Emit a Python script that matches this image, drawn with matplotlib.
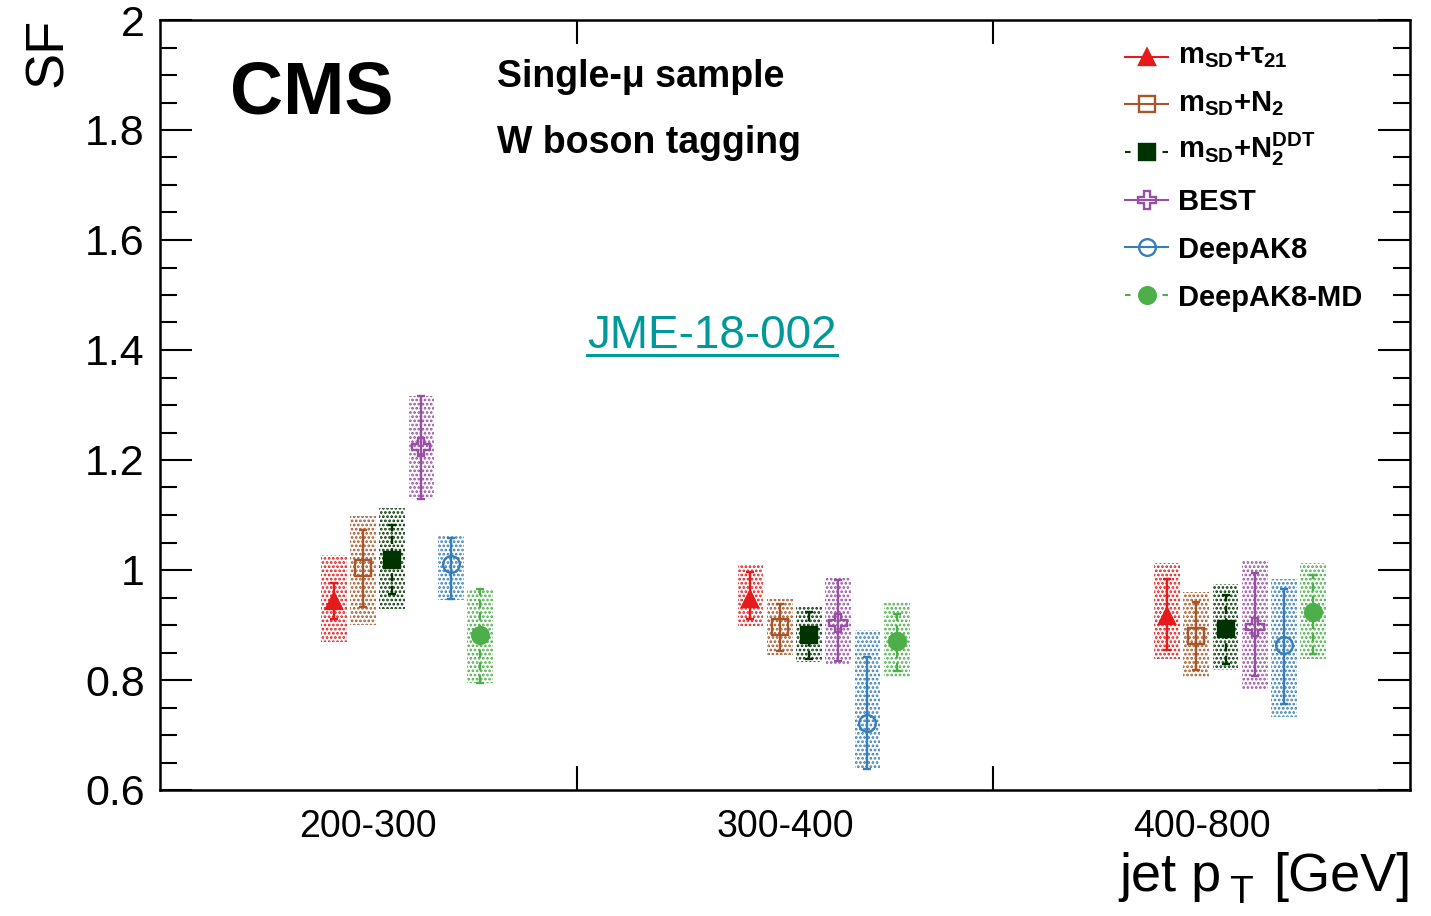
import numpy as np
import matplotlib
matplotlib.use('Agg')
import matplotlib.pyplot as plt
from matplotlib.patches import Rectangle
from matplotlib.lines import Line2D
from matplotlib.ticker import MultipleLocator, FixedLocator, FuncFormatter

plt.rcParams['font.family'] = ['Liberation Sans', 'DejaVu Sans']
plt.rcParams['mathtext.fontset'] = 'custom'
plt.rcParams['mathtext.rm'] = 'Liberation Sans'
plt.rcParams['mathtext.bf'] = 'Liberation Sans:bold'
plt.rcParams['mathtext.it'] = 'Liberation Sans:italic'
plt.rcParams['mathtext.sf'] = 'Liberation Sans'
plt.rcParams['hatch.linewidth'] = 1.3
plt.rcParams['lines.scale_dashes'] = False

# ---------------- data ----------------
categories = ['200-300', '300-400', '400-800']

tau21_sf = [0.943, 0.947, 0.917]
tau21_lo = [0.911, 0.911, 0.855]
tau21_hi = [0.977, 0.996, 0.983]
tau21_box_lo = [0.870, 0.898, 0.839]
tau21_box_hi = [1.027, 1.009, 1.012]

n2_sf = [1.004, 0.896, 0.880]
n2_lo = [0.933, 0.853, 0.818]
n2_hi = [1.073, 0.939, 0.942]
n2_box_lo = [0.900, 0.846, 0.804]
n2_box_hi = [1.098, 0.948, 0.960]

n2ddt_sf = [1.018, 0.881, 0.893]
n2ddt_lo = [0.956, 0.838, 0.829]
n2ddt_hi = [1.081, 0.923, 0.955]
n2ddt_box_lo = [0.930, 0.832, 0.818]
n2ddt_box_hi = [1.112, 0.932, 0.975]

best_sf = [1.224, 0.903, 0.896]
best_lo = [1.129, 0.834, 0.807]
best_hi = [1.316, 0.982, 0.994]
best_box_lo = [1.129, 0.827, 0.783]
best_box_hi = [1.317, 0.985, 1.018]

dak8_sf = [1.011, 0.721, 0.864]
dak8_lo = [0.947, 0.638, 0.756]
dak8_hi = [1.059, 0.841, 0.965]
dak8_box_lo = [0.945, 0.640, 0.733]
dak8_box_hi = [1.062, 0.891, 0.983]

dak8md_sf = [0.881, 0.871, 0.923]
dak8md_lo = [0.795, 0.817, 0.847]
dak8md_hi = [0.965, 0.920, 0.991]
dak8md_box_lo = [0.795, 0.804, 0.839]
dak8md_box_hi = [0.965, 0.941, 1.012]

series_labels = [r'm$_{\mathbf{SD}}$+τ$_{\mathbf{21}}$',
                 r'm$_{\mathbf{SD}}$+N$_{\mathbf{2}}$',
                 r'm$_{\mathbf{SD}}$+N$_{\mathbf{2}}^{\mathbf{DDT}}$',
                 'BEST', 'DeepAK8', 'DeepAK8-MD']

# ---------------- styles ----------------
series = [
    dict(sf=tau21_sf, lo=tau21_lo, hi=tau21_hi, blo=tau21_box_lo, bhi=tau21_box_hi,
         color='#e41a1c', marker='^', ms=11, filled=True, dashed=False, tdy=7),
    dict(sf=n2_sf, lo=n2_lo, hi=n2_hi, blo=n2_box_lo, bhi=n2_box_hi,
         color='#a65628', marker='s', ms=11, filled=False, dashed=False, tdy=7),
    dict(sf=n2ddt_sf, lo=n2ddt_lo, hi=n2ddt_hi, blo=n2ddt_box_lo, bhi=n2ddt_box_hi,
         color='#003300', marker='s', ms=12, filled=True, dashed=True, tdy=6),
    dict(sf=best_sf, lo=best_lo, hi=best_hi, blo=best_box_lo, bhi=best_box_hi,
         color='#984ea3', marker='P', ms=13, filled=False, dashed=False, tdy=10.5),
    dict(sf=dak8_sf, lo=dak8_lo, hi=dak8_hi, blo=dak8_box_lo, bhi=dak8_box_hi,
         color='#377eb8', marker='o', ms=12, filled=False, dashed=False, tdy=10.5),
    dict(sf=dak8md_sf, lo=dak8md_lo, hi=dak8md_hi, blo=dak8md_box_lo, bhi=dak8md_box_hi,
         color='#4daf4a', marker='o', ms=12, filled=True, dashed=True, tdy=10.5),
]

W, H = 1431, 916
fig = plt.figure(figsize=(W / 100, H / 100), dpi=100)
AX_L, AX_R, AX_T, AX_B = 160, 1410, 20, 790
ax = fig.add_axes([AX_L / W, 1 - AX_B / H, (AX_R - AX_L) / W, (AX_B - AX_T) / H])
ax.set_xlim(0, 3)
ax.set_ylim(0.6, 2.0)

def fx(p):
    return p / W

def fy(p):
    return 1 - p / H

def axx(p):
    return (p - AX_L) / (AX_R - AX_L)

def axy(p):
    return (AX_B - p) / (AX_B - AX_T)

first_offset = 0.417
step = 0.0702
box_w = 0.062
elw = 1.7

for i, s in enumerate(series):
    x = np.arange(len(categories)) + first_offset + i * step
    for xi, lo, hi in zip(x, s['blo'], s['bhi']):
        ax.add_patch(Rectangle((xi - box_w / 2, lo), box_w, hi - lo,
                               facecolor='none', edgecolor=s['color'],
                               linewidth=0, hatch='....', zorder=1))
    sf = np.array(s['sf'])
    yerr = [sf - np.array(s['lo']), np.array(s['hi']) - sf]
    eb = ax.errorbar(x, sf, yerr=yerr, fmt='none', ecolor=s['color'],
                     elinewidth=elw, capsize=3, capthick=elw, zorder=2)
    if s['dashed']:
        eb[2][0].set_linestyle((0, (6, 3)))
    ax.plot(x, sf, linestyle='none', marker=s['marker'], ms=s['ms'],
            mfc=s['color'] if s['filled'] else 'none', mec=s['color'],
            mew=elw, zorder=3)

    # legend entry
    ly = axy(56.5 + i * 47.7)
    ls = (0, (4, 23)) if s['dashed'] else '-'
    ax.plot([axx(1125), axx(1168)], [ly, ly], transform=ax.transAxes,
            color=s['color'], lw=1.5, linestyle=ls, clip_on=False, zorder=4)
    ax.plot([axx(1146.5)], [ly], transform=ax.transAxes, linestyle='none',
            marker=s['marker'], ms=s['ms'],
            mfc=s['color'] if s['filled'] else 'none', mec=s['color'],
            mew=elw, clip_on=False, zorder=5)
    ax.text(axx(1178), axy(56.5 + i * 47.7 + s['tdy']), series_labels[i],
            transform=ax.transAxes, ha='left', va='baseline', fontsize=21,
            fontweight='bold')

# ---------------- axes styling ----------------
for sp in ax.spines.values():
    sp.set_linewidth(1.8)

ax.yaxis.set_major_locator(MultipleLocator(0.2))
ax.yaxis.set_minor_locator(MultipleLocator(0.05))
ax.yaxis.set_major_formatter(FuncFormatter(lambda v, p: f'{v:g}'))
ax.tick_params(axis='y', which='major', direction='in', length=23, width=1.5,
               left=True, right=True, labelsize=31, pad=11)
ax.tick_params(axis='y', which='minor', direction='in', length=12, width=1.5,
               left=True, right=True)

ax.xaxis.set_major_locator(FixedLocator([1, 2]))
ax.xaxis.set_major_formatter(FuncFormatter(lambda v, p: ''))
ax.set_xticks(np.arange(len(categories)) + 0.5, labels=categories, minor=True)
ax.tick_params(axis='x', which='major', direction='in', length=17, width=1.5,
               bottom=True, top=True)
ax.tick_params(axis='x', which='minor', length=0, labelsize=27, pad=14)

# ---------------- texts ----------------
fig.text(fx(48), fy(18), 'SF', rotation=90, ha='center', va='top', fontsize=39)
fig.text(fx(230), fy(113), 'CMS', ha='left', va='baseline', fontsize=53,
         fontweight='bold')
fig.text(fx(497), fy(87), 'Single-μ sample', ha='left', va='baseline',
         fontsize=27, fontweight='bold')
fig.text(fx(497), fy(153), 'W boson tagging', ha='left', va='baseline',
         fontsize=27, fontweight='bold')
jme = fig.text(fx(712), fy(348), 'JME-18-002', ha='center', va='baseline',
               fontsize=33, color='#009999')

# x-axis title built from pieces (ROOT-style large, low subscript)
fig.canvas.draw()
rend = fig.canvas.get_renderer()
t_gev = fig.text(fx(1411), fy(891), '[GeV]', ha='right', va='baseline', fontsize=39)
bb_gev = t_gev.get_window_extent(rend)
t_sub = fig.text((bb_gev.x0 - 20) / W, fy(903), 'T', ha='right', va='baseline',
                 fontsize=28)
bb_sub = t_sub.get_window_extent(rend)
fig.text((bb_sub.x0 - 8) / W, fy(891), 'jet p', ha='right', va='baseline',
         fontsize=39)

bb = jme.get_window_extent(rend)
fig.add_artist(Line2D([bb.x0 / W, bb.x1 / W], [fy(355), fy(355)],
                      color='#009999', lw=2.2))

fig.savefig('out.png', dpi=100)
